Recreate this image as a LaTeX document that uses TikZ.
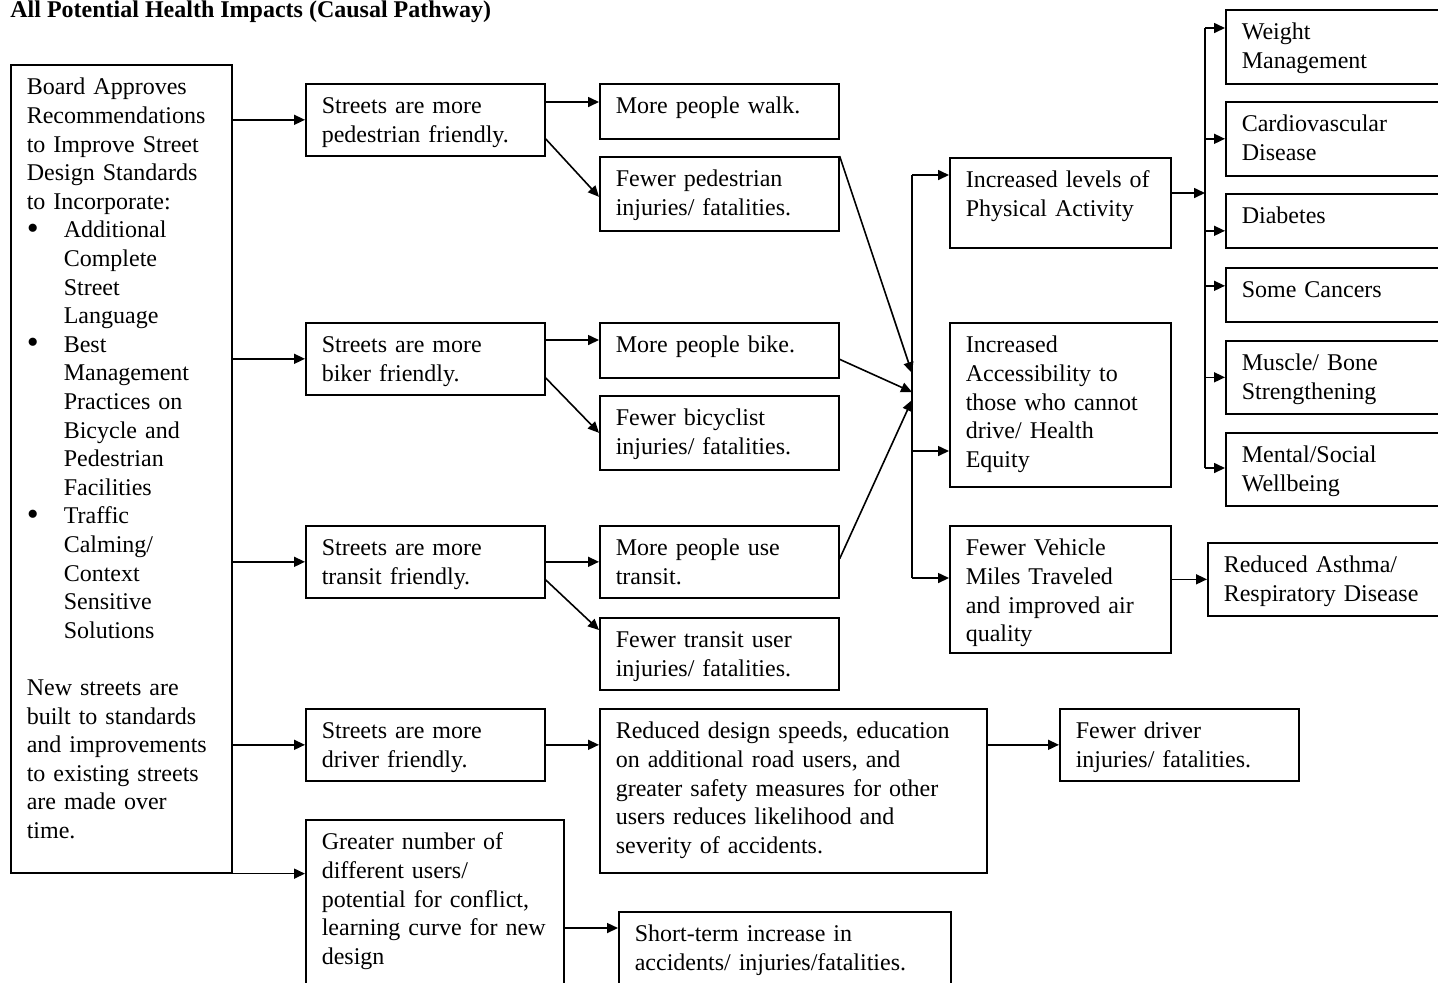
\documentclass[tikz,border=0pt]{standalone}
\usepackage{fontspec}
\setmainfont{Liberation Serif}
\usepackage{tikz}
\usetikzlibrary{arrows.meta,positioning}
\newcommand{\boxfont}{\fontsize{12}{14.3}\selectfont}
\newcommand{\bitem}{\makebox[18.5pt][l]{\raisebox{-0.6pt}{\fontsize{17}{14.3}\selectfont\textbullet}}}
\newcommand{\bindent}{\hspace*{18.5pt}}

\begin{document}
\begin{tikzpicture}[
x=0.5pt, y=-0.5pt,
box/.style={draw, line width=0.8pt, anchor=north west, align=left, inner xsep=8pt, inner ysep=5pt, font=\boxfont, execute at begin node=\strut},
arr/.style={-{Triangle[length=5.5pt,width=5pt]}, line width=0.8pt},
busline/.style={line width=0.8pt}
]
\useasboundingbox (0,0) rectangle (1438,982);
\clip (0,0) rectangle (1438,982);

\node[anchor=base west, inner sep=0pt, font=\boxfont\bfseries] (title) at (10,17) {All Potential Health Impacts (Causal Pathway)};

\node[box, text width=94.5pt, text depth=384pt] (lbox) at (10,64) {Board Approves\\ Recommendations\\ to Improve Street\\ Design Standards\\ to Incorporate:\\
\bitem Additional\\ \bindent Complete\\ \bindent Street\\ \bindent Language\\
\bitem Best\\ \bindent Management\\ \bindent Practices on\\ \bindent Bicycle and\\ \bindent Pedestrian\\ \bindent Facilities\\
\bitem Traffic\\ \bindent Calming/\\ \bindent Context\\ \bindent Sensitive\\ \bindent Solutions\\ \mbox{}\\
New streets are\\ built to standards\\ and improvements\\ to existing streets\\ are made over\\ time.};

\node[box, text width=103.5pt, text depth=16pt] (s1) at (305,83) {Streets are more\\ pedestrian friendly.};
\node[box, text width=103.5pt, text depth=16pt] (s2) at (305,322) {Streets are more\\ biker friendly.};
\node[box, text width=103.5pt, text depth=16pt] (s3) at (305,525) {Streets are more\\ transit friendly.};
\node[box, text width=103.5pt, text depth=16pt] (s4) at (305,708) {Streets are more\\ driver friendly.};
\node[box, text width=113pt, text depth=70pt] (g) at (305,819) {Greater number of\\ different users/\\ potential for conflict,\\ learning curve for new\\ design};

\node[box, text width=103.5pt, text depth=7.5pt] (w1) at (599,83) {More people walk.};
\node[box, text width=103.5pt, text depth=17pt] (f1) at (599,156) {Fewer pedestrian\\ injuries/ fatalities.};
\node[box, text width=103.5pt, text depth=7.5pt] (w2) at (599,322) {More people bike.};
\node[box, text width=103.5pt, text depth=17pt] (f2) at (599,395) {Fewer bicyclist\\ injuries/ fatalities.};
\node[box, text width=103.5pt, text depth=16pt] (w3) at (599,525) {More people use\\ transit.};
\node[box, text width=103.5pt, text depth=16pt] (f3) at (599,617) {Fewer transit user\\ injuries/ fatalities.};
\node[box, text width=177.5pt, text depth=62pt] (rd) at (599,708) {Reduced design speeds, education\\ on additional road users, and\\ greater safety measures for other\\ users reduces likelihood and\\ severity of accidents.};
\node[box, text width=150pt, text depth=25pt] (st) at (618,911) {Short-term increase in\\ accidents/ injuries/fatalities.};

\node[box, text width=94.5pt, text depth=25pt] (pa) at (949,157) {Increased levels of\\ Physical Activity};
\node[box, text width=94.5pt, text depth=62pt] (ac) at (949,322) {Increased\\ Accessibility to\\ those who cannot\\ drive/ Health\\ Equity};
\node[box, text width=94.5pt, text depth=43.5pt] (vm) at (949,525) {Fewer Vehicle\\ Miles Traveled\\ and improved air\\ quality};
\node[box, text width=103.5pt, text depth=16pt] (fd) at (1059,708) {Fewer driver\\ injuries/ fatalities.};

\node[box, text width=101.5pt, text depth=17pt] (wm) at (1225,9) {Weight\\ Management};
\node[box, text width=101.5pt, text depth=17pt] (cv) at (1225,101) {Cardiovascular\\ Disease};
\node[box, text width=101.5pt, text depth=7pt] (db) at (1225,193) {Diabetes};
\node[box, text width=101.5pt, text depth=7pt] (sc) at (1225,267) {Some Cancers};
\node[box, text width=101.5pt, text depth=16.5pt] (mb) at (1225,340) {Muscle/ Bone\\ Strengthening};
\node[box, text width=101.5pt, text depth=16.5pt] (ms) at (1225,432) {Mental/Social\\ Wellbeing};
\node[box, text width=110.5pt, text depth=16.5pt] (ra) at (1207,542) {Reduced Asthma/\\ Respiratory Disease};

\draw[arr] (lbox.east |- s1.west) -- (s1.west);
\draw[arr] (lbox.east |- s2.west) -- (s2.west);
\draw[arr] (lbox.east |- s3.west) -- (s3.west);
\draw[arr] (lbox.east |- s4.west) -- (s4.west);
\draw[arr] (lbox.south east) -- (lbox.south east -| g.west);

\draw[arr] ([yshift=-9.5pt]s1.north east) -- ([yshift=-9.5pt]s1.north east -| w1.west);
\draw[arr] ([yshift=-9.5pt]s1.east) -- ([yshift=-1.5pt]f1.west);
\draw[arr] ([yshift=-9pt]s2.north east) -- ([yshift=-9pt]s2.north east -| w2.west);
\draw[arr] ([yshift=-9.5pt]s2.east) -- (f2.west);
\draw[arr] (s3.east) -- (w3.west);
\draw[arr] ([yshift=-9pt]s3.east) -- ([yshift=-6.5pt]f3.north west);
\draw[arr] (s4.east) -- (s4.east -| rd.west);
\coordinate (gst) at ([yshift=-8.5pt]st.north west);
\draw[arr] (gst -| g.east) -- (gst);
\draw[arr] (fd.west -| rd.east) -- (fd.west);

\coordinate (j1) at (912,373);
\coordinate (j2) at (912,392);
\coordinate (j3) at (912,400);
\coordinate (btop) at (912,175);
\coordinate (bmid) at (912,451);
\coordinate (bbot) at (912,578);
\draw[busline] (btop) -- (bbot);
\draw[arr] (f1.north east) -- (j1);
\draw[arr] ([yshift=-4.5pt]w2.east) -- (j2);
\draw[arr] ([yshift=1.5pt]w3.east) -- (j3);
\draw[arr] (btop) -- (btop -| pa.west);
\draw[arr] (bmid) -- (bmid -| ac.west);
\draw[arr] (bbot) -- (bbot -| vm.west);

\coordinate (rbus) at (1205,193);
\coordinate (rtop) at (1205,28);
\coordinate (rbot) at (1205,468);
\draw[busline] (rtop) -- (rbot);
\draw[arr] (pa.east |- rbus) -- (rbus);
\draw[arr] (rtop) -- (rtop -| wm.west);
\draw[arr] (rbus |- cv.west) -- (cv.west);
\draw[arr] ([yshift=-5pt]rbus |- db.west) -- ([yshift=-5pt]db.west);
\draw[arr] ([yshift=4.5pt]rbus |- sc.west) -- ([yshift=4.5pt]sc.west);
\draw[arr] (rbus |- mb.west) -- (mb.west);
\draw[arr] (rbot) -- (rbot -| ms.west);
\draw[arr] (ra.west -| vm.east) -- (ra.west);
\end{tikzpicture}
\end{document}
